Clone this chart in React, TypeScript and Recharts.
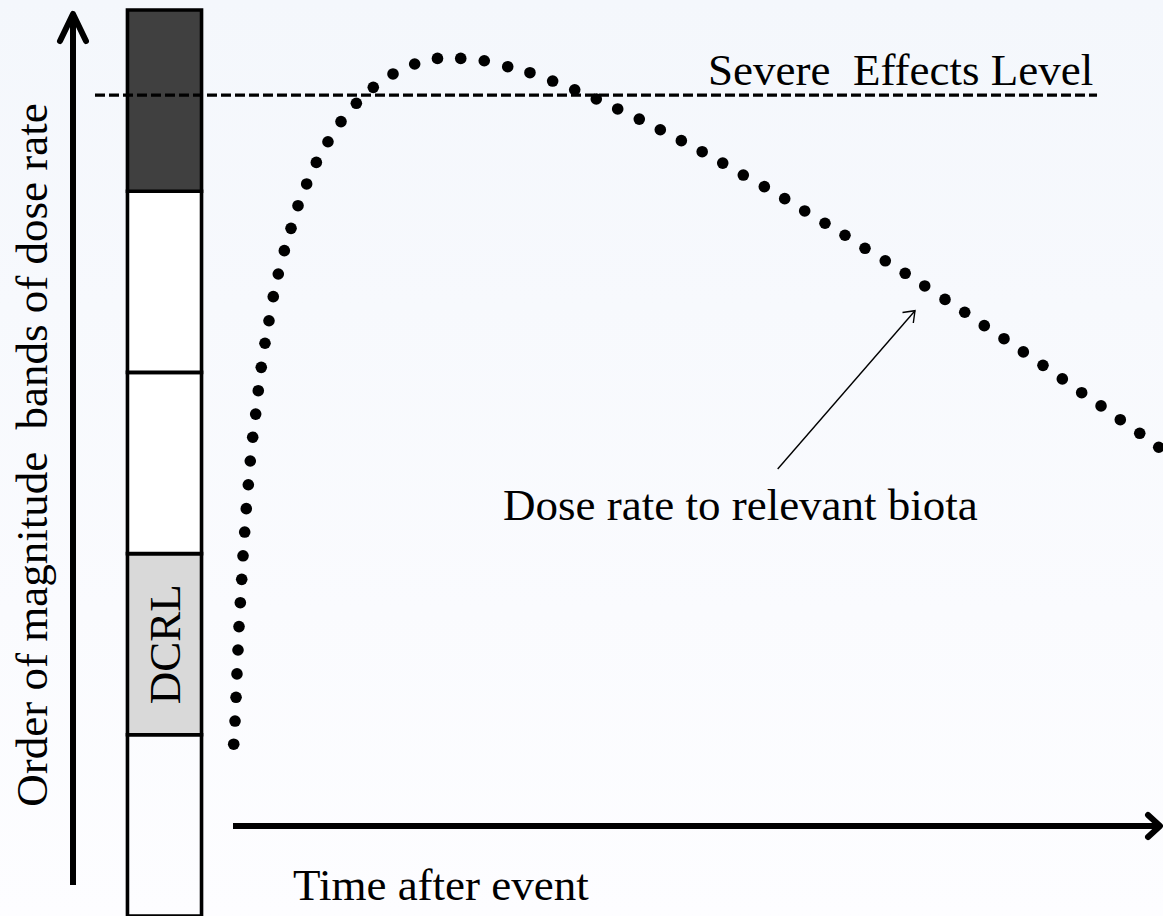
import { ComposedChart, Line, XAxis, YAxis, ReferenceArea, Customized } from 'recharts';

// ── Data (time after event vs. order-of-magnitude band of dose rate) ─────────

// dotted curve, one entry per dot
const DOSE_TIME = [
  0.12, 0.26, 0.37, 0.47, 0.58, 0.69, 0.83, 0.98, 1.12, 1.30,
  1.47, 1.69, 1.90, 2.16, 2.48, 2.76, 3.08, 3.48, 3.91, 4.37,
  4.91, 5.56, 6.28, 7.03, 7.96, 9.00, 10.25, 11.65, 13.30, 15.12,
  17.24, 19.57, 22.02, 24.52, 27.05, 29.57, 31.96, 34.40, 36.77, 39.09,
  41.39, 43.71, 45.97, 48.23, 50.47, 52.68, 54.89, 57.15, 59.34, 61.49,
  63.67, 65.82, 67.97, 70.15, 72.29, 74.39, 76.57, 78.69, 80.79, 82.91,
  84.99, 87.10, 89.18, 91.26, 93.34, 95.41, 97.50, 99.54,
];
const DOSE_LEVEL = [
  0.948, 1.076, 1.207, 1.336, 1.468, 1.597, 1.729, 1.858, 1.988, 2.119,
  2.248, 2.380, 2.511, 2.642, 2.770, 2.899, 3.028, 3.161, 3.285, 3.418,
  3.543, 3.672, 3.795, 3.920, 4.040, 4.159, 4.273, 4.384, 4.485, 4.573,
  4.647, 4.702, 4.733, 4.733, 4.720, 4.687, 4.654, 4.608, 4.560, 4.509,
  4.454, 4.398, 4.339, 4.279, 4.218, 4.155, 4.089, 4.025, 3.959, 3.891,
  3.823, 3.757, 3.685, 3.616, 3.547, 3.477, 3.403, 3.332, 3.258, 3.186,
  3.113, 3.039, 2.964, 2.888, 2.815, 2.739, 2.664, 2.587,
];

// magnitude bands (bottom → top)
const BAND_FROM = [0, 1, 2, 3, 4];
const BAND_TO = [1, 2, 3, 4, 5];
const BAND_FILL = ['none', '#d9d9d9', '#ffffff', '#ffffff', '#404040'];
const BAND_LABEL = ['', 'DCRL', '', '', ''];

// severe effects level, dashed
const SEVERE_TIME = [-14.79, 92.91];
const SEVERE_LEVEL = [4.53, 4.53];

// column of bands sits left of t = 0
const COLUMN_X = [-11.3, -3.34];

const W = 1163;
const H = 916;
const FONT = "'Liberation Serif', 'Times New Roman', serif";

const doseData = DOSE_TIME.map((t, i) => ({ t, level: DOSE_LEVEL[i] }));
const severeData = SEVERE_TIME.map((t, i) => ({ t, severe: SEVERE_LEVEL[i] }));

// rotated text centred in a band
const BandLabel = ({ viewBox, text }: { viewBox?: any; text: string }) => {
  if (!viewBox || !text) return null;
  const cx = viewBox.x + viewBox.width / 2 + 16;
  const cy = viewBox.y + viewBox.height / 2;
  return (
    <text
      transform={`translate(${cx},${cy}) rotate(-90)`}
      textAnchor="middle"
      fontFamily={FONT}
      fontSize={45}
      fill="#000"
    >
      {text}
    </text>
  );
};

// ── Annotations: axis arrows and labels ───────────────────────────────────────

const Annotations = () => (
  <g fontFamily={FONT} fill="#000">
    {/* y arrow */}
    <line x1={73} y1={14} x2={73} y2={885} stroke="#000" strokeWidth={6} />
    <polyline points="60,41 73,14 86,41" fill="none" stroke="#000" strokeWidth={6}
      strokeLinecap="round" strokeLinejoin="round" />
    {/* x arrow */}
    <line x1={233} y1={826} x2={1159} y2={826} stroke="#000" strokeWidth={6} />
    <polyline points="1148,815 1160,826 1148,837" fill="none" stroke="#000" strokeWidth={6}
      strokeLinecap="round" strokeLinejoin="round" />
    {/* pointer to curve */}
    <line x1={777.7} y1={469} x2={915} y2={310.7} stroke="#000" strokeWidth={1.4} />
    <polyline points="902.5,312.5 915,310.7 913.3,323" fill="none" stroke="#000" strokeWidth={1.4} />

    <text x={708} y={85} fontSize={45}>Severe{'\u00a0\u00a0'}Effects Level</text>
    <text x={503} y={520} fontSize={45}>Dose rate to relevant biota</text>
    <text x={293} y={900} fontSize={45}>Time after event</text>
    <text transform="translate(47,455) rotate(-90)" textAnchor="middle" fontSize={45}>
      Order of magnitude{'\u00a0\u00a0'}bands of dose rate
    </text>
  </g>
);

export default function App() {
  return (
    <div
      style={{
        position: 'fixed', left: 0, top: 0, width: W, height: H,
        background: 'linear-gradient(#f4f7fc, #fdfdff)',
      }}
    >
      <ComposedChart width={W} height={H} margin={{ top: 10, right: 0, bottom: 0, left: 0 }}>
        <XAxis type="number" dataKey="t" domain={[-25, 100]} hide allowDataOverflow />
        <YAxis type="number" domain={[0, 5]} hide allowDataOverflow />

        {BAND_FROM.map((from, i) => (
          <ReferenceArea
            key={i}
            x1={COLUMN_X[0]}
            x2={COLUMN_X[1]}
            y1={from}
            y2={BAND_TO[i]}
            fill={BAND_FILL[i]}
            fillOpacity={1}
            stroke="#000"
            strokeWidth={3.6}
            ifOverflow="visible"
            label={<BandLabel text={BAND_LABEL[i]} />}
          />
        ))}

        <Line
          data={severeData}
          dataKey="severe"
          stroke="#000"
          strokeWidth={3.4}
          strokeDasharray="10 4"
          dot={false}
          activeDot={false}
          isAnimationActive={false}
        />

        <Line
          data={doseData}
          dataKey="level"
          stroke="none"
          dot={{ r: 5.8, fill: '#000', stroke: 'none' }}
          activeDot={false}
          isAnimationActive={false}
        />

        <Customized component={Annotations} />
      </ComposedChart>
    </div>
  );
}
